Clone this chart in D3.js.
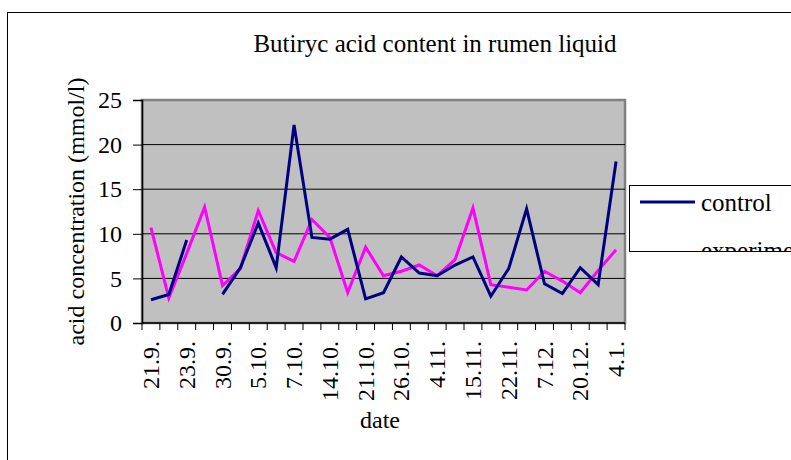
<!DOCTYPE html>
<html>
<head>
<meta charset="utf-8">
<script src="https://cdn.jsdelivr.net/npm/d3@7"></script>
<style>
  body { margin: 0; background: #fff; }
  svg text { font-family: "Liberation Serif", "Times New Roman", serif; }
</style>
</head>
<body>
<div id="chart"></div>
<script>
// 27 sampling days, only every other one gets a label on the axis
const nDays = 27;
const dateLabels = ["21.9.", "23.9.", "30.9.", "5.10.", "7.10.", "14.10.", "21.10.",
  "26.10.", "4.11.", "15.11.", "22.11.", "7.12.", "20.12.", "4.1."];
// butyric acid, mmol/l (null = no sample)
const control = [2.6, 3.2, 9.3, null, 3.2, 6.2, 11.2, 6.2, 22.2, 9.6, 9.4, 10.5, 2.7, 3.4,
  7.4, 5.6, 5.3, 6.5, 7.4, 3.0, 6.1, 12.8, 4.4, 3.3, 6.2, 4.3, 18.1];
const experiment = [10.7, 2.8, 7.8, 13.0, 4.2, 6.1, 12.6, 7.9, 6.9, 11.6, 9.6, 3.4, 8.5, 5.3,
  5.8, 6.5, 5.3, 7.1, 12.9, 4.3, 4.0, 3.7, 5.8, 4.7, 3.4, 5.9, 8.2];
const yTicks = [0, 5, 10, 15, 20, 25];
const series = [
  { name: "control", values: control, color: "#000080" },
  { name: "experiment", values: experiment, color: "#ff00ff" }
];

const W = 791, H = 460;
const svg = d3.select("#chart").append("svg")
  .attr("width", W).attr("height", H);

// outer chart frame (runs off the right and bottom)
svg.append("rect").attr("x", 7.5).attr("y", 12.5)
  .attr("width", W).attr("height", H)
  .attr("fill", "none").attr("stroke", "#000").attr("stroke-width", 1);

const plot = { left: 142, right: 625, top: 100, bottom: 323 };

const x = d3.scaleBand().domain(d3.range(nDays)).range([plot.left, plot.right]);
const y = d3.scaleLinear().domain([0, 25]).range([plot.bottom, plot.top]);

// grey plot area
svg.append("rect")
  .attr("x", plot.left).attr("y", plot.top)
  .attr("width", plot.right - plot.left).attr("height", plot.bottom - plot.top)
  .attr("fill", "#c0c0c0").attr("stroke", "#808080").attr("stroke-width", 2.5);

// gridlines
svg.append("g").selectAll("line")
  .data(yTicks.filter(d => d > 0 && d < 25))
  .enter().append("line")
  .attr("x1", plot.left).attr("x2", plot.right)
  .attr("y1", d => y(d)).attr("y2", d => y(d))
  .attr("stroke", "#000").attr("stroke-width", 1);

// y axis
const yAxis = svg.append("g")
  .attr("transform", `translate(${plot.left},0)`)
  .call(d3.axisLeft(y).tickValues(yTicks).tickSize(9).tickPadding(11));
yAxis.select(".domain").attr("stroke", "#000").attr("stroke-width", 1.5);
yAxis.selectAll("text").attr("font-size", 24).attr("fill", "#000")
  .attr("font-family", "Liberation Serif, Times New Roman, serif");

// x axis: line + ticks on category boundaries
svg.append("line")
  .attr("x1", plot.left).attr("x2", plot.right)
  .attr("y1", plot.bottom).attr("y2", plot.bottom)
  .attr("stroke", "#000").attr("stroke-width", 1.5);
const bounds = d3.range(nDays).map(i => x(i)).concat([plot.right]);
svg.append("g").selectAll("line").data(bounds).enter().append("line")
  .attr("x1", d => d).attr("x2", d => d)
  .attr("y1", plot.bottom).attr("y2", plot.bottom + 7)
  .attr("stroke", "#000").attr("stroke-width", 1);

svg.append("g").selectAll("text").data(dateLabels).enter().append("text")
  .attr("transform", (d, i) => `translate(${x(i * 2) + x.bandwidth() / 2 + 8},341) rotate(-90)`)
  .attr("text-anchor", "end")
  .attr("font-size", 24)
  .text(d => d);

// lines
const line = d3.line()
  .defined(d => d != null)
  .x((d, i) => x(i) + x.bandwidth() / 2)
  .y(d => y(d));
svg.append("g").selectAll("path").data(series.slice().reverse()).enter().append("path")
  .attr("d", d => line(d.values))
  .attr("fill", "none")
  .attr("stroke", d => d.color)
  .attr("stroke-width", 3)
  .attr("stroke-linejoin", "miter");

// titles
svg.append("text").attr("x", 435).attr("y", 52)
  .attr("text-anchor", "middle").attr("font-size", 25)
  .text("Butiryc acid content in rumen liquid");
svg.append("text").attr("x", 380).attr("y", 428)
  .attr("text-anchor", "middle").attr("font-size", 24)
  .text("date");
svg.append("text")
  .attr("transform", `translate(84,${(plot.top + plot.bottom) / 2}) rotate(-90)`)
  .attr("text-anchor", "middle").attr("font-size", 24)
  .text("acid concentration (mmol/l)");

// legend box, too small for its second entry
const lg = { x: 629.5, y: 185.5, w: 200, h: 66 };
svg.append("clipPath").attr("id", "legclip")
  .append("rect").attr("x", lg.x).attr("y", lg.y).attr("width", lg.w).attr("height", lg.h);
const legend = svg.append("g").attr("clip-path", "url(#legclip)");
legend.append("rect").attr("x", lg.x).attr("y", lg.y).attr("width", lg.w).attr("height", lg.h)
  .attr("fill", "#fff");
const entry = legend.selectAll("g").data(series).enter().append("g");
entry.append("line")
  .attr("x1", 640).attr("x2", 695)
  .attr("y1", (d, i) => 202 + i * 53).attr("y2", (d, i) => 202 + i * 53)
  .attr("stroke", d => d.color).attr("stroke-width", 3);
entry.append("text").attr("x", 701).attr("y", (d, i) => 211 + i * 48)
  .attr("font-size", 25).text(d => d.name);
svg.append("rect").attr("x", lg.x).attr("y", lg.y).attr("width", lg.w).attr("height", lg.h)
  .attr("fill", "none").attr("stroke", "#000").attr("stroke-width", 1);
</script>
</body>
</html>
